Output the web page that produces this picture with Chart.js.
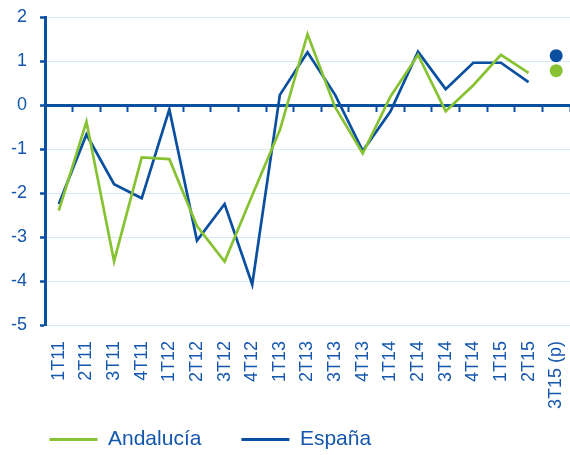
<!DOCTYPE html>
<html>
<head>
<meta charset="utf-8">
<script src="https://cdn.jsdelivr.net/npm/chart.js@4"></script>
<style>
  html, body { margin: 0; padding: 0; background: #fff; }
  #wrap { position: relative; width: 570px; height: 455px; }
</style>
</head>
<body>
<div id="wrap"><canvas id="chart"></canvas></div>
<script>
// quarters
const labels = ['1T11', '2T11', '3T11', '4T11', '1T12', '2T12', '3T12', '4T12', '1T13', '2T13',
  '3T13', '4T13', '1T14', '2T14', '3T14', '4T14', '1T15', '2T15', '3T15 (p)'];
const andalucia = [-2.40, -0.38, -3.55, -1.19, -1.23, -2.75, -3.56, -2.05, -0.57, 1.61,
  -0.05, -1.10, 0.19, 1.14, -0.14, 0.45, 1.14, 0.73, 0.78];
const espana = [-2.25, -0.67, -1.80, -2.12, -0.10, -3.08, -2.25, -4.08, 0.23, 1.20,
  0.23, -1.04, -0.15, 1.21, 0.36, 0.96, 0.96, 0.52, 1.12];
const seriesNames = ['Andalucía', 'España'];

const GREEN = '#86c232';
const BLUE = '#0b4fa1';
const TEXT = '#1457ad';
const GRID = '#d6eaf4';
const FONT = "'Liberation Sans', Arial, sans-serif";

// the forecast quarter is shown as a lone dot, not joined to the line
const lastIdx = labels.length - 1;
const makeSet = (name, values, color) => ({
  label: name,
  data: values,
  borderColor: color,
  backgroundColor: color,
  borderWidth: 2.7,
  tension: 0,
  pointRadius: c => (c.dataIndex === lastIdx ? 6.5 : 0),
  pointHoverRadius: c => (c.dataIndex === lastIdx ? 6.5 : 0),
  pointBorderWidth: 0,
  pointBackgroundColor: color,
  segment: {
    borderColor: c => (c.p1DataIndex === lastIdx ? 'rgba(0,0,0,0)' : undefined)
  }
});

// drop the label overhang padding, the plot edges are set by layout.padding
const noPad = s => {
  s.paddingLeft = 0; s.paddingRight = 0; s.paddingTop = 0; s.paddingBottom = 0;
};

// the rotated quarter labels hang down past the legend's top; let them show
const labelRoom = {
  id: 'labelRoom',
  afterLayout: c => { c.scales.x.bottom = c.height; }
};

new Chart(document.getElementById('chart'), {
  type: 'line',
  data: {
    labels: labels,
    datasets: [
      makeSet(seriesNames[0], andalucia, GREEN),
      makeSet(seriesNames[1], espana, BLUE)
    ]
  },
  plugins: [labelRoom],
  options: {
    responsive: true,
    maintainAspectRatio: false,
    animation: false,
    layout: { autoPadding: false, padding: { left: 9.5, top: 17, right: 0, bottom: 0 } },
    plugins: {
      tooltip: { enabled: false },
      legend: {
        position: 'bottom',
        align: 'start',
        maxHeight: 66,
        labels: {
          boxWidth: 48,
          boxHeight: 3,
          padding: 40,
          color: TEXT,
          font: { family: FONT, size: 21 },
          generateLabels: chart => chart.data.datasets.map((ds, i) => ({
            text: ds.label,
            fillStyle: ds.borderColor,
            strokeStyle: ds.borderColor,
            lineWidth: 0,
            fontColor: TEXT,
            hidden: false,
            datasetIndex: i
          }))
        }
      }
    },
    scales: {
      x: {
        type: 'category',
        position: 'bottom',
        offset: true,
        afterFit: s => { s.height = 64; noPad(s); },
        grid: { display: false, drawTicks: false },
        border: { display: false },
        ticks: {
          autoSkip: false,
          minRotation: 90,
          maxRotation: 90,
          padding: 16,
          color: TEXT,
          font: { family: FONT, size: 18 }
        }
      },
      xZero: {
        type: 'category',
        position: { y: 0 },
        offset: true,
        afterFit: noPad,
        grid: {
          drawOnChartArea: false,
          drawTicks: true,
          tickLength: 5,
          tickColor: BLUE,
          tickWidth: 2,
          offset: true
        },
        border: { display: true, color: BLUE, width: 3 },
        ticks: { display: false }
      },
      y: {
        min: -5,
        max: 2,
        afterFit: s => { s.width = 35.5; noPad(s); },
        grid: {
          color: GRID,
          lineWidth: 1,
          tickColor: BLUE,
          tickLength: 5,
          tickWidth: 2.5
        },
        border: { display: true, color: BLUE, width: 3 },
        ticks: {
          stepSize: 1,
          padding: 13,
          color: TEXT,
          font: { family: FONT, size: 18 }
        }
      }
    }
  }
});
</script>
</body>
</html>
